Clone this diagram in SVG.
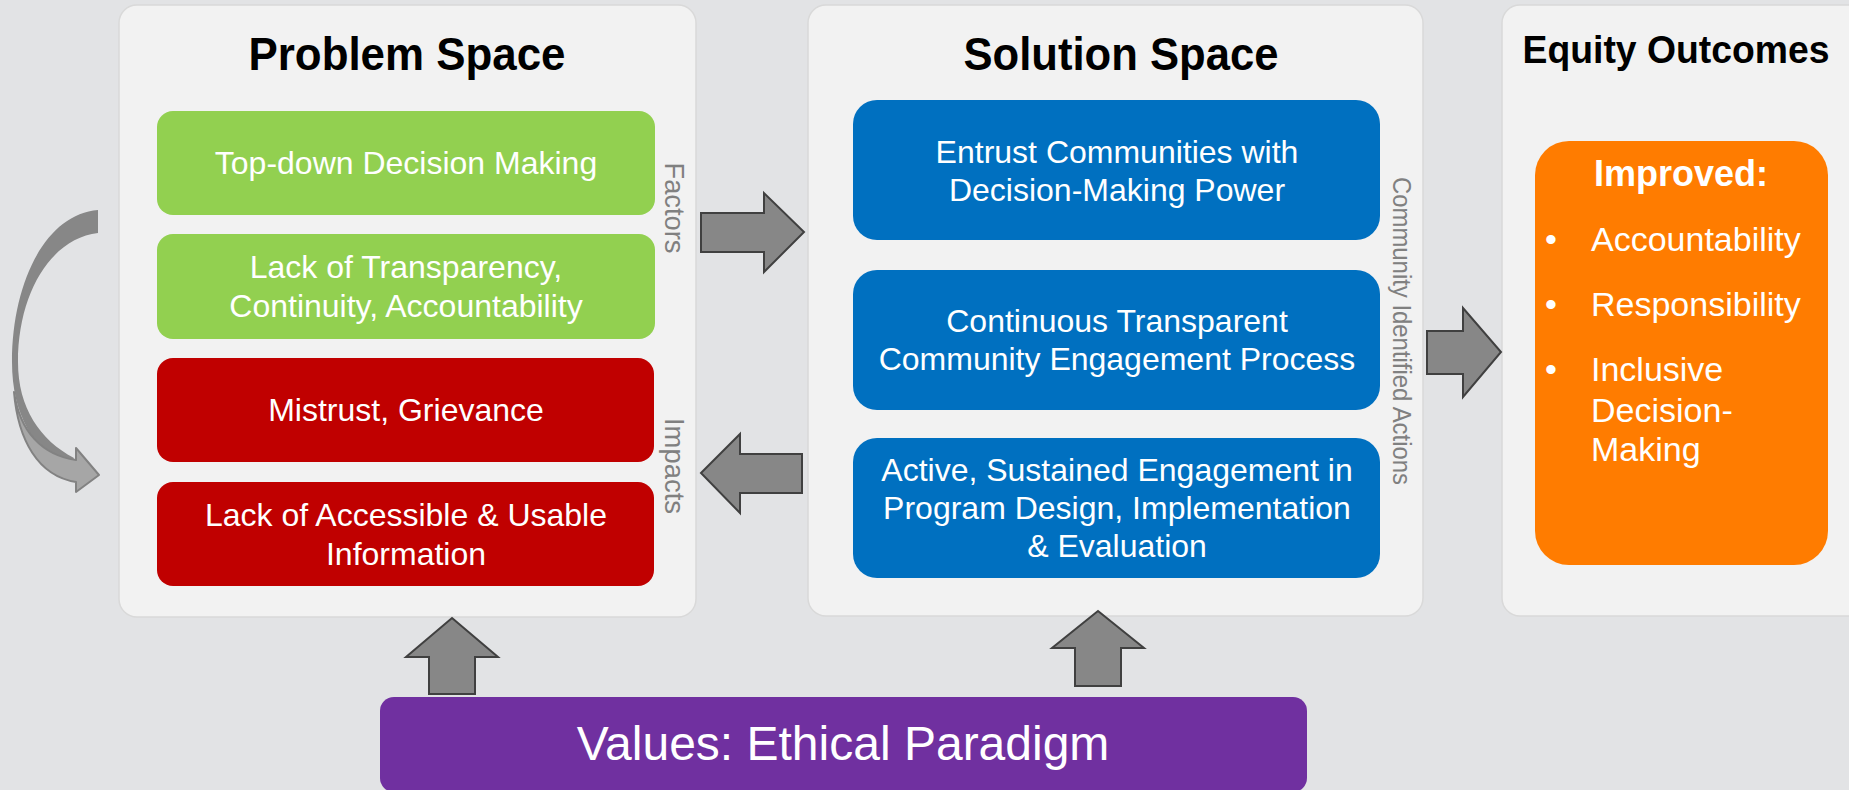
<svg xmlns="http://www.w3.org/2000/svg" width="1849" height="790" viewBox="0 0 1849 790">
<style>
.panel{fill:#f2f2f2;stroke:#d9d9d9;stroke-width:1.5}
.title{font-family:"Liberation Sans",Arial,sans-serif;font-weight:bold;fill:#000;text-anchor:middle}
.bt{font-family:"Liberation Sans",Arial,sans-serif;font-size:32px;fill:#fff;text-anchor:middle}
.side{font-family:"Liberation Sans",Arial,sans-serif;fill:#808080;text-anchor:middle}
.arr{fill:#878787;stroke:#404040;stroke-width:2;stroke-linejoin:miter}
.ot{font-family:"Liberation Sans",Arial,sans-serif;font-size:34px;fill:#fff}
</style>
<rect width="1849" height="790" fill="#e2e3e5"/>

<g id="problem-space">
<rect class="panel" x="119" y="5" width="577" height="612" rx="18"/>
<text class="title" x="407" y="70" font-size="47" textLength="317" lengthAdjust="spacingAndGlyphs">Problem Space</text>
</g>
<g id="top-down">
<rect x="157" y="111" width="498" height="104" rx="16" fill="#92d050"/>
<text class="bt" x="406" y="174">Top-down Decision Making</text>
</g>
<g id="lack-transparency">
<rect x="157" y="234" width="498" height="105" rx="16" fill="#92d050"/>
<text class="bt" x="406" y="278">Lack of Transparency,</text>
<text class="bt" x="406" y="317">Continuity, Accountability</text>
</g>
<g id="mistrust">
<rect x="157" y="358" width="497" height="104" rx="16" fill="#c00000"/>
<text class="bt" x="406" y="421">Mistrust, Grievance</text>
</g>
<g id="lack-information">
<rect x="157" y="482" width="497" height="104" rx="16" fill="#c00000"/>
<text class="bt" x="406" y="526">Lack of Accessible &amp; Usable</text>
<text class="bt" x="406" y="565">Information</text>
</g>
<g id="factors-label">
<text class="side" font-size="28" transform="translate(665,208) rotate(90)" textLength="91" lengthAdjust="spacingAndGlyphs">Factors</text>
</g>
<g id="impacts-label">
<text class="side" font-size="28" transform="translate(665,466) rotate(90)" textLength="96" lengthAdjust="spacingAndGlyphs">Impacts</text>
</g>

<g id="solution-space">
<rect class="panel" x="808" y="5" width="615" height="611" rx="18"/>
<text class="title" x="1121" y="70" font-size="47" textLength="315" lengthAdjust="spacingAndGlyphs">Solution Space</text>
</g>
<g id="entrust">
<rect x="853" y="100" width="527" height="140" rx="24" fill="#0070c0"/>
<text class="bt" x="1117" y="163">Entrust Communities with</text>
<text class="bt" x="1117" y="201">Decision-Making Power</text>
</g>
<g id="continuous">
<rect x="853" y="270" width="527" height="140" rx="24" fill="#0070c0"/>
<text class="bt" x="1117" y="332">Continuous Transparent</text>
<text class="bt" x="1117" y="370">Community Engagement Process</text>
</g>
<g id="active">
<rect x="853" y="438" width="527" height="140" rx="24" fill="#0070c0"/>
<text class="bt" x="1117" y="481">Active, Sustained Engagement in</text>
<text class="bt" x="1117" y="519">Program Design, Implementation</text>
<text class="bt" x="1117" y="557">&amp; Evaluation</text>
</g>
<g id="community-label">
<text class="side" font-size="25" transform="translate(1393,331) rotate(90)" textLength="308" lengthAdjust="spacingAndGlyphs">Community Identified Actions</text>
</g>

<g id="equity-outcomes">
<rect class="panel" x="1502" y="5" width="365" height="611" rx="18"/>
<text class="title" x="1676" y="63" font-size="39" textLength="307" lengthAdjust="spacingAndGlyphs">Equity Outcomes</text>
</g>
<g id="improved">
<rect x="1535" y="141" width="293" height="424" rx="34" fill="#ff7c00"/>
<text x="1681" y="186" font-family="'Liberation Sans',Arial,sans-serif" font-weight="bold" font-size="36" fill="#fff" text-anchor="middle">Improved:</text>
<text class="ot" x="1545" y="251">•</text>
<text class="ot" x="1591" y="251">Accountability</text>
<text class="ot" x="1545" y="316">•</text>
<text class="ot" x="1591" y="316">Responsibility</text>
<text class="ot" x="1545" y="381">•</text>
<text class="ot" x="1591" y="381">Inclusive</text>
<text class="ot" x="1591" y="422">Decision-</text>
<text class="ot" x="1591" y="461">Making</text>
</g>

<g id="values">
<rect x="380" y="697" width="927" height="95" rx="14" fill="#7030a0"/>
<text x="843" y="760" font-family="'Liberation Sans',Arial,sans-serif" font-size="48" fill="#fff" text-anchor="middle">Values: Ethical Paradigm</text>
</g>

<g id="connectors">
<polygon class="arr" points="701,213 764,213 764,193 804,232 764,272 764,252 701,252"/>
<polygon class="arr" points="701,473 740,434 740,454 802,454 802,493 740,493 740,513"/>
<polygon class="arr" points="1427,331 1463,331 1463,308 1501,352 1463,397 1463,374 1427,374"/>
<polygon class="arr" points="452,618 498,657 475,657 475,694 429,694 429,657 406,657"/>
<polygon class="arr" points="1098,611 1144,648 1121,648 1121,686 1075,686 1075,648 1052,648"/>
<path d="M98,210 C46,214 12,282 12,362 C12,415 34,450 68,468 L74,458 C40,440 18,408 18,362 C18,292 52,238 98,233 Z" fill="#878787"/>
<path d="M14,392 C20,432 42,455 76,460 L76,448 L99,475 L76,492 L76,482 C38,476 18,440 14,392 Z" fill="#a6a6a6" stroke="#828282" stroke-width="2" stroke-linejoin="round"/>
</g>
</svg>
